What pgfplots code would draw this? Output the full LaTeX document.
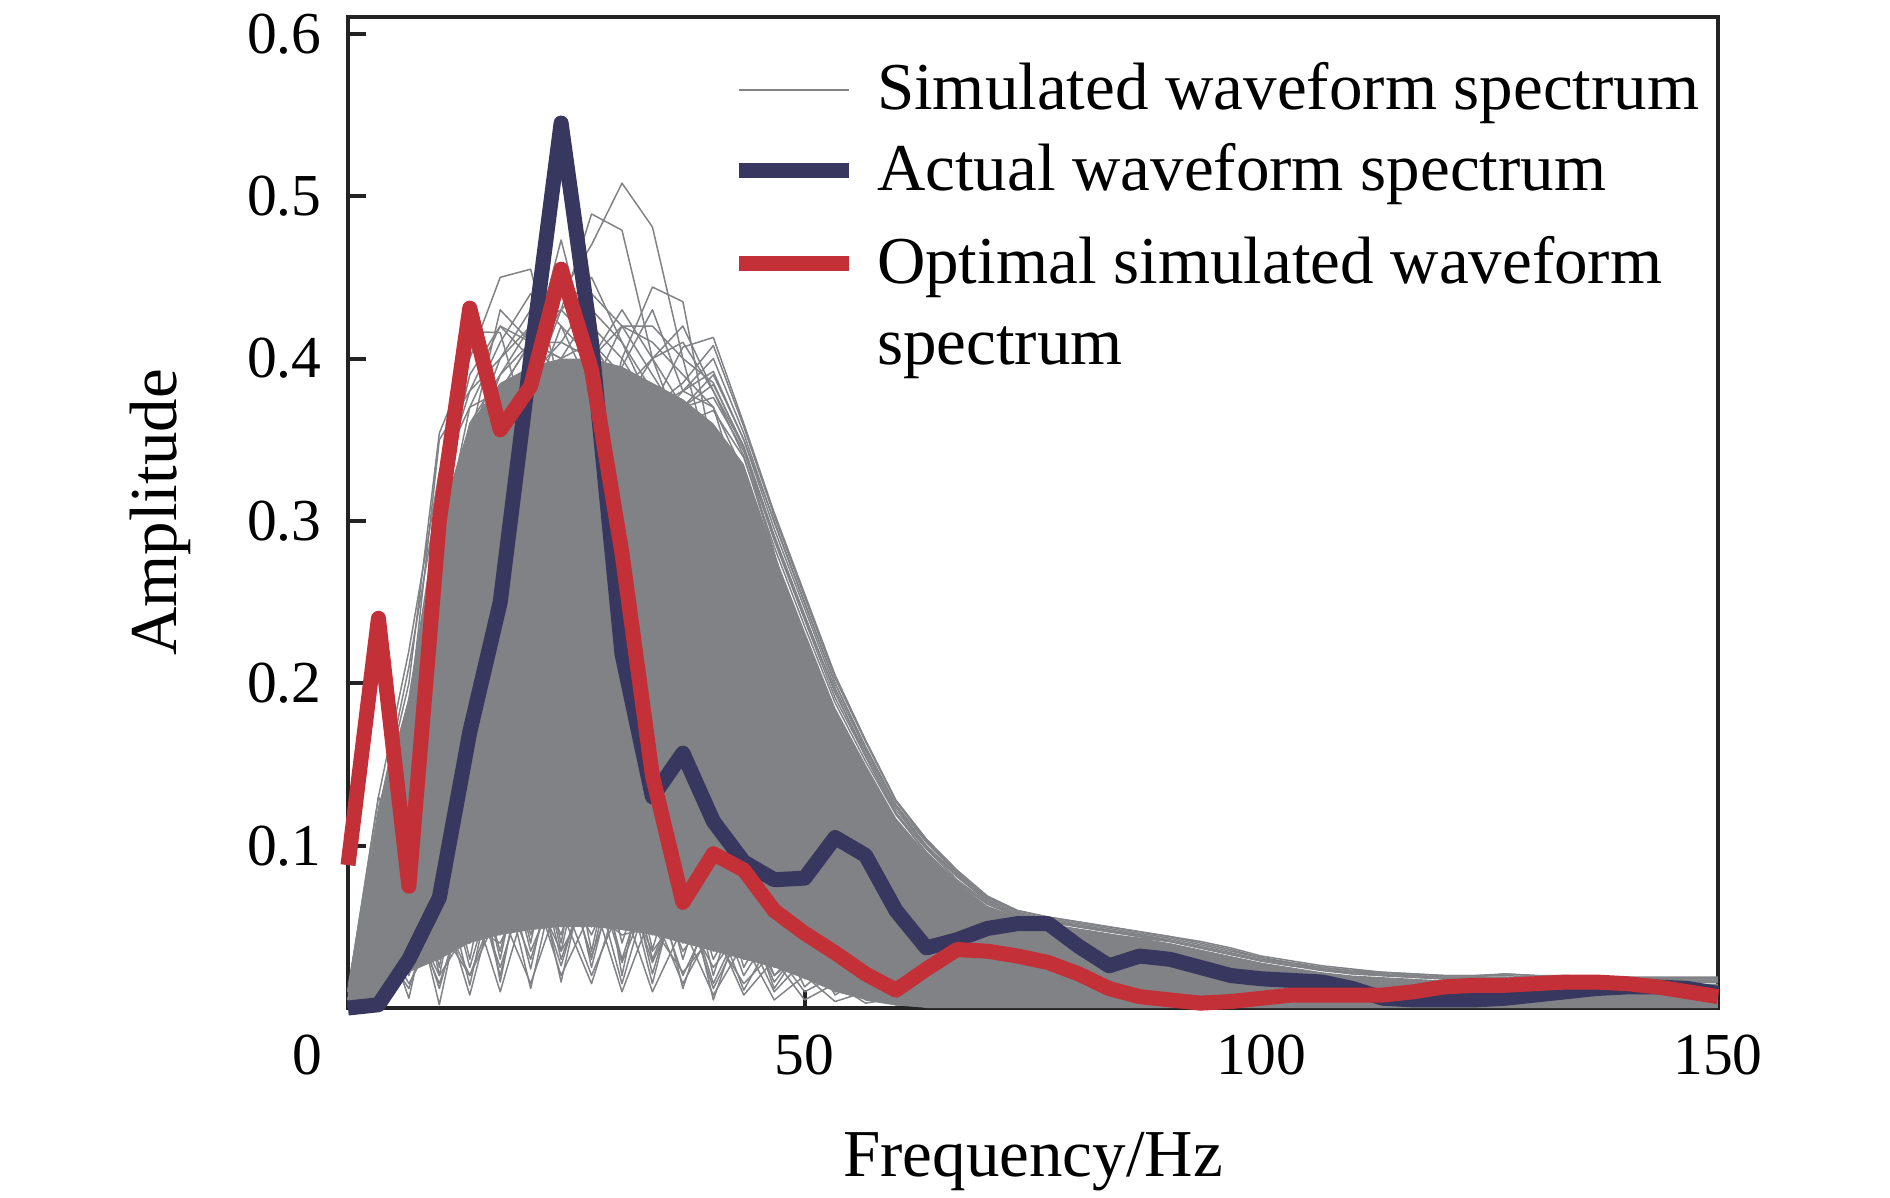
\documentclass[border=0pt]{standalone}
\usepackage{fontspec}
\setmainfont{Liberation Serif}
\usepackage{pgfplots}
\pgfplotsset{compat=1.18}
\definecolor{simgray}{RGB}{128,130,133}
\definecolor{actblue}{RGB}{55,55,95}
\definecolor{optred}{RGB}{196,48,56}
\definecolor{axcol}{RGB}{35,35,35}
\pgfplotsset{sim/.style={simgray, line width=0.3pt, line join=round, forget plot}}
\begin{document}
\begin{tikzpicture}
\begin{axis}[
  at={(0,0)}, anchor=south west,
  scale only axis, width=274pt, height=198.2pt,
  xmin=0, xmax=150, ymin=0, ymax=0.6103,
  clip=false,
  xtick={50,100,150},
  extra x ticks={0},
  extra x tick style={xticklabel style={xshift=-8.2pt}},
  ytick={0.1,0.2,0.3,0.4,0.5,0.6},
  /pgf/number format/assume math mode=true,
  tick label style={font=\fontsize{11.9}{14}\selectfont},
  yticklabel style={/pgf/number format/fixed, /pgf/number format/precision=1, inner sep=0pt, xshift=-5.1pt},
  xticklabel style={inner sep=0pt, yshift=-5.2pt},
  tick align=inside, tick pos=left,
  major tick length=3.7pt,
  major tick style={line width=0.8pt, axcol},
  axis line style={line width=0.8pt, axcol},
  label style={font=\fontsize{13.4}{16}\selectfont},
  xlabel={Frequency/Hz}, ylabel={Amplitude},
  x label style={at={(axis description cs:0.5,-0.1705)}, anchor=base},
  y label style={at={(axis description cs:-0.1252,0.5)}, anchor=base},
  legend cell align=left,
  legend style={draw=none, fill=none, inner sep=0pt, outer sep=0pt,
    at={(axis description cs:0.2796,0.954)}, anchor=north west,
    font=\fontsize{13.4}{16.3}\selectfont,
    cells={anchor=base west},
    nodes={inner sep=0pt, outer sep=0pt},
    /tikz/row sep=5.15pt, /tikz/column sep=4.2pt},
  legend image code/.code={\draw[#1] (0pt,4pt) -- (22pt,4pt);},
]
% dense region of the simulated spectra
\addplot[fill=simgray, draw=none, forget plot] coordinates {
(0,0.015) (3.333,0.125) (6.667,0.19) (10,0.30) (13.333,0.36) (16.667,0.385) (20,0.395) (23.333,0.40) (26.667,0.40) (30,0.395) (33.333,0.385) (36.667,0.375) (40,0.36) (43.333,0.335) (46.667,0.28) (50,0.232) (53.333,0.185) (56.667,0.15) (60,0.117) (63.333,0.095) (66.667,0.077) (70,0.063) (73.333,0.056) (76.667,0.052) (80,0.049) (83.333,0.046) (86.667,0.043) (90,0.040) (93.333,0.036) (96.667,0.032) (100,0.028) (103.333,0.025) (106.667,0.022) (110,0.020) (113.333,0.019) (116.667,0.018) (120,0.017) (123.333,0.016) (126.667,0.016) (130,0.016) (133.333,0.016) (136.667,0.016) (140,0.015) (143.333,0.015) (146.667,0.015) (150,0.015)
(150,0) (63.333,0) (60,0.002) (56.667,0.005) (53.333,0.010) (50,0.018) (46.667,0.025) (43.333,0.030) (40,0.035) (36.667,0.040) (33.333,0.045) (30,0.048) (26.667,0.050) (23.333,0.050) (20,0.048) (16.667,0.045) (13.333,0.040) (10,0.030) (6.667,0.022) (3.333,0) (0,0)
} -- cycle;
% upper simulated spectra
\addplot[simgray, line width=0.3pt, line join=round] coordinates {(0,0.005) (3.333,0.08) (6.667,0.14) (10,0.22) (13.333,0.30) (16.667,0.35) (20,0.40) (23.333,0.44) (26.667,0.47) (30,0.508) (33.333,0.481) (36.667,0.40) (40,0.33) (43.333,0.26) (46.667,0.20) (50,0.15) (53.333,0.12) (56.667,0.09) (60,0.07) (63.333,0.06) (66.667,0.05) (70,0.045) (73.333,0.04) (76.667,0.037) (80,0.035) (83.333,0.032) (86.667,0.03) (90,0.028)};
\addlegendentry{Simulated waveform spectrum}
\addplot[sim] coordinates {(0,0.005) (3.333,0.09) (6.667,0.15) (10,0.24) (13.333,0.31) (16.667,0.36) (20,0.38) (23.333,0.43) (26.667,0.489) (30,0.479) (33.333,0.40) (36.667,0.35) (40,0.31) (43.333,0.26) (46.667,0.21) (50,0.17) (53.333,0.13) (56.667,0.10) (60,0.08) (63.333,0.065) (66.667,0.055) (70,0.048) (73.333,0.043) (76.667,0.04) (80,0.037) (83.333,0.035) (86.667,0.032) (90,0.03)};
\addplot[sim] coordinates {(0,0.01) (3.333,0.10) (6.667,0.16) (10,0.26) (13.333,0.33) (16.667,0.37) (20,0.40) (23.333,0.473) (26.667,0.40) (30,0.37) (33.333,0.33) (36.667,0.30) (40,0.27) (43.333,0.23) (46.667,0.19) (50,0.15) (53.333,0.12) (56.667,0.095) (60,0.075) (63.333,0.062) (66.667,0.053) (70,0.047) (73.333,0.042) (76.667,0.04) (80,0.037) (83.333,0.035) (86.667,0.033) (90,0.031)};
\addplot[sim] coordinates {(0,0.005) (3.333,0.07) (6.667,0.12) (10,0.19) (13.333,0.25) (16.667,0.29) (20,0.31) (23.333,0.32) (26.667,0.33) (30,0.40) (33.333,0.444) (36.667,0.435) (40,0.34) (43.333,0.28) (46.667,0.23) (50,0.19) (53.333,0.155) (56.667,0.125) (60,0.10) (63.333,0.08) (66.667,0.066) (70,0.056) (73.333,0.05) (76.667,0.046) (80,0.043) (83.333,0.041) (86.667,0.039) (90,0.037)};
\addplot[sim] coordinates {(0,0.005) (3.333,0.06) (6.667,0.11) (10,0.17) (13.333,0.22) (16.667,0.26) (20,0.28) (23.333,0.30) (26.667,0.31) (30,0.33) (33.333,0.37) (36.667,0.407) (40,0.413) (43.333,0.36) (46.667,0.305) (50,0.255) (53.333,0.205) (56.667,0.165) (60,0.128) (63.333,0.104) (66.667,0.085) (70,0.069) (73.333,0.060) (76.667,0.056) (80,0.053) (83.333,0.050) (86.667,0.047) (90,0.044) (93.333,0.041) (96.667,0.037) (100,0.032) (103.333,0.029) (106.667,0.026) (110,0.024) (113.333,0.022) (116.667,0.021) (120,0.02) (123.333,0.02) (126.667,0.021) (130,0.02) (133.333,0.02) (136.667,0.019) (140,0.019) (143.333,0.019) (146.667,0.019) (150,0.019)};
\addplot[sim] coordinates {(0,0.01) (3.333,0.12) (6.667,0.20) (10,0.354) (13.333,0.40) (16.667,0.45) (20,0.455) (23.333,0.38) (26.667,0.35) (30,0.33) (33.333,0.30) (36.667,0.27) (40,0.24) (43.333,0.20) (46.667,0.16) (50,0.13) (53.333,0.10) (56.667,0.08) (60,0.065) (63.333,0.055) (66.667,0.048) (70,0.043) (73.333,0.04) (76.667,0.037) (80,0.035) (83.333,0.033) (86.667,0.031) (90,0.029)};
\addplot[sim] coordinates {(0,0.01) (3.333,0.12) (6.667,0.19) (10,0.30) (13.333,0.4165) (16.667,0.416) (20,0.35) (23.333,0.37) (26.667,0.34) (30,0.31) (33.333,0.28) (36.667,0.25) (40,0.22) (43.333,0.18) (46.667,0.15) (50,0.12) (53.333,0.095) (56.667,0.075) (60,0.062) (63.333,0.053) (66.667,0.047) (70,0.043) (73.333,0.04) (76.667,0.037) (80,0.035) (83.333,0.033) (86.667,0.031) (90,0.029)};
\addplot[sim] coordinates {(0,0.005) (3.333,0.08) (6.667,0.14) (10,0.22) (13.333,0.30) (16.667,0.34) (20,0.37) (23.333,0.42) (26.667,0.38) (30,0.42) (33.333,0.39) (36.667,0.36) (40,0.32) (43.333,0.27) (46.667,0.22) (50,0.18) (53.333,0.14) (56.667,0.11) (60,0.088) (63.333,0.072) (66.667,0.06) (70,0.052) (73.333,0.047) (76.667,0.043) (80,0.04) (83.333,0.038) (86.667,0.036) (90,0.034)};
\addplot[sim] coordinates {(0,0.005) (3.333,0.07) (6.667,0.13) (10,0.20) (13.333,0.27) (16.667,0.32) (20,0.35) (23.333,0.36) (26.667,0.37) (30,0.395) (33.333,0.43) (36.667,0.38) (40,0.37) (43.333,0.31) (46.667,0.26) (50,0.21) (53.333,0.17) (56.667,0.135) (60,0.105) (63.333,0.084) (66.667,0.069) (70,0.058) (73.333,0.051) (76.667,0.047) (80,0.044) (83.333,0.042) (86.667,0.04) (90,0.038)};
\addplot[sim] coordinates {(0,0.005) (3.333,0.07) (6.667,0.12) (10,0.19) (13.333,0.25) (16.667,0.30) (20,0.33) (23.333,0.35) (26.667,0.36) (30,0.37) (33.333,0.40) (36.667,0.42) (40,0.38) (43.333,0.345) (46.667,0.29) (50,0.24) (53.333,0.195) (56.667,0.155) (60,0.12) (63.333,0.095) (66.667,0.077) (70,0.064) (73.333,0.056) (76.667,0.051) (80,0.048) (83.333,0.045) (86.667,0.043) (90,0.041)};
\addplot[sim] coordinates {(0,0.005) (3.333,0.06) (6.667,0.11) (10,0.17) (13.333,0.23) (16.667,0.28) (20,0.31) (23.333,0.33) (26.667,0.35) (30,0.36) (33.333,0.35) (36.667,0.37) (40,0.39) (43.333,0.35) (46.667,0.30) (50,0.25) (53.333,0.20) (56.667,0.16) (60,0.124) (63.333,0.099) (66.667,0.081) (70,0.066) (73.333,0.058) (76.667,0.054) (80,0.05) (83.333,0.047) (86.667,0.045) (90,0.042)};
\addplot[sim] coordinates {(0,0.01) (3.333,0.11) (6.667,0.18) (10,0.28) (13.333,0.36) (16.667,0.39) (20,0.42) (23.333,0.44) (26.667,0.41) (30,0.39) (33.333,0.35) (36.667,0.31) (40,0.28) (43.333,0.24) (46.667,0.20) (50,0.16) (53.333,0.125) (56.667,0.098) (60,0.078) (63.333,0.064) (66.667,0.055) (70,0.048) (73.333,0.043) (76.667,0.04) (80,0.037) (83.333,0.035) (86.667,0.033) (90,0.031)};
\addplot[sim] coordinates {(0,0.005) (3.333,0.09) (6.667,0.15) (10,0.25) (13.333,0.34) (16.667,0.39) (20,0.41) (23.333,0.40) (26.667,0.43) (30,0.41) (33.333,0.37) (36.667,0.33) (40,0.29) (43.333,0.25) (46.667,0.21) (50,0.17) (53.333,0.135) (56.667,0.105) (60,0.083) (63.333,0.068) (66.667,0.058) (70,0.05) (73.333,0.045) (76.667,0.042) (80,0.039) (83.333,0.037) (86.667,0.035) (90,0.033)};
\addplot[sim] coordinates {(0,0.01) (3.333,0.13) (6.667,0.22) (10,0.33) (13.333,0.37) (16.667,0.38) (20,0.41) (23.333,0.39) (26.667,0.37) (30,0.35) (33.333,0.32) (36.667,0.28) (40,0.25) (43.333,0.21) (46.667,0.17) (50,0.14) (53.333,0.11) (56.667,0.088) (60,0.07) (63.333,0.058) (66.667,0.05) (70,0.045) (73.333,0.041) (76.667,0.038) (80,0.036) (83.333,0.034) (86.667,0.032) (90,0.03)};
\addplot[sim] coordinates {(0,0.01) (3.333,0.11) (6.667,0.19) (10,0.31) (13.333,0.39) (16.667,0.42) (20,0.40) (23.333,0.43) (26.667,0.41) (30,0.38) (33.333,0.36) (36.667,0.33) (40,0.30) (43.333,0.27) (46.667,0.24) (50,0.20)};
\addplot[sim] coordinates {(0,0.01) (3.333,0.10) (6.667,0.17) (10,0.28) (13.333,0.37) (16.667,0.41) (20,0.44) (23.333,0.42) (26.667,0.40) (30,0.43) (33.333,0.40) (36.667,0.37) (40,0.35) (43.333,0.31) (46.667,0.26) (50,0.21)};
\addplot[sim] coordinates {(0,0.01) (3.333,0.12) (6.667,0.21) (10,0.32) (13.333,0.38) (16.667,0.40) (20,0.43) (23.333,0.45) (26.667,0.42) (30,0.40) (33.333,0.37) (36.667,0.34) (40,0.31) (43.333,0.28) (46.667,0.24) (50,0.20)};
\addplot[sim] coordinates {(0,0.005) (3.333,0.09) (6.667,0.16) (10,0.26) (13.333,0.34) (16.667,0.38) (20,0.41) (23.333,0.41) (26.667,0.44) (30,0.42) (33.333,0.41) (36.667,0.39) (40,0.37) (43.333,0.33) (46.667,0.27) (50,0.22)};
\addplot[sim] coordinates {(0,0.005) (3.333,0.08) (6.667,0.15) (10,0.24) (13.333,0.31) (16.667,0.36) (20,0.39) (23.333,0.41) (26.667,0.40) (30,0.42) (33.333,0.42) (36.667,0.40) (40,0.385) (43.333,0.345) (46.667,0.28) (50,0.22)};
\addplot[sim] coordinates {(0,0.005) (3.333,0.08) (6.667,0.14) (10,0.23) (13.333,0.31) (16.667,0.35) (20,0.38) (23.333,0.40) (26.667,0.41) (30,0.38) (33.333,0.40) (36.667,0.41) (40,0.38) (43.333,0.34) (46.667,0.28) (50,0.22)};
\addplot[sim] coordinates {(0,0.01) (3.333,0.11) (6.667,0.18) (10,0.35) (13.333,0.38) (16.667,0.42) (20,0.41) (23.333,0.40) (26.667,0.37) (30,0.36) (33.333,0.34) (36.667,0.31) (40,0.28) (43.333,0.25) (46.667,0.22) (50,0.19)};
\addplot[sim] coordinates {(0,0.005) (3.333,0.09) (6.667,0.16) (10,0.27) (13.333,0.35) (16.667,0.40) (20,0.42) (23.333,0.43) (26.667,0.45) (30,0.41) (33.333,0.38) (36.667,0.35) (40,0.32) (43.333,0.28) (46.667,0.24) (50,0.20)};
\addplot[sim] coordinates {(0,0.01) (3.333,0.10) (6.667,0.17) (10,0.27) (13.333,0.35) (16.667,0.43) (20,0.41) (23.333,0.44) (26.667,0.39) (30,0.37) (33.333,0.35) (36.667,0.32) (40,0.29) (43.333,0.26) (46.667,0.22) (50,0.19)};
% bundle on the falling side and the tail
\addplot[sim] coordinates {(33.333,0.37) (36.667,0.385) (40,0.408) (43.333,0.358) (46.667,0.303) (50,0.253) (53.333,0.203) (56.667,0.164) (60,0.127) (63.333,0.103) (66.667,0.084) (70,0.068) (73.333,0.060) (76.667,0.056) (80,0.053) (83.333,0.050) (86.667,0.047) (90,0.044) (93.333,0.040) (96.667,0.036) (100,0.031) (103.333,0.028) (106.667,0.025) (110,0.023) (113.333,0.022) (116.667,0.021) (120,0.020) (123.333,0.020) (126.667,0.020) (130,0.019) (133.333,0.019) (136.667,0.019) (140,0.018) (143.333,0.018) (146.667,0.018) (150,0.018)};
\addplot[sim] coordinates {(33.333,0.37) (36.667,0.38) (40,0.400) (43.333,0.354) (46.667,0.299) (50,0.249) (53.333,0.200) (56.667,0.161) (60,0.125) (63.333,0.102) (66.667,0.083) (70,0.068) (73.333,0.059) (76.667,0.055) (80,0.052) (83.333,0.049) (86.667,0.046) (90,0.043) (93.333,0.039) (96.667,0.035) (100,0.031) (103.333,0.027) (106.667,0.025) (110,0.023) (113.333,0.021) (116.667,0.020) (120,0.019) (123.333,0.019) (126.667,0.021) (130,0.020) (133.333,0.019) (136.667,0.018) (140,0.017) (143.333,0.017) (146.667,0.018) (150,0.018)};
\addplot[sim] coordinates {(33.333,0.36) (36.667,0.38) (40,0.392) (43.333,0.350) (46.667,0.295) (50,0.246) (53.333,0.197) (56.667,0.159) (60,0.124) (63.333,0.100) (66.667,0.082) (70,0.067) (73.333,0.058) (76.667,0.054) (80,0.051) (83.333,0.048) (86.667,0.045) (90,0.041) (93.333,0.037) (96.667,0.033) (100,0.029) (103.333,0.026) (106.667,0.024) (110,0.022) (113.333,0.020) (116.667,0.019) (120,0.018) (123.333,0.018) (126.667,0.018) (130,0.017) (133.333,0.017) (136.667,0.017) (140,0.017) (143.333,0.016) (146.667,0.017) (150,0.017)};
\addplot[sim] coordinates {(33.333,0.36) (36.667,0.37) (40,0.384) (43.333,0.346) (46.667,0.291) (50,0.242) (53.333,0.194) (56.667,0.157) (60,0.122) (63.333,0.099) (66.667,0.081) (70,0.066) (73.333,0.058) (76.667,0.054) (80,0.051) (83.333,0.048) (86.667,0.045) (90,0.042) (93.333,0.038) (96.667,0.034) (100,0.030) (103.333,0.027) (106.667,0.024) (110,0.022) (113.333,0.021) (116.667,0.020) (120,0.019) (123.333,0.019) (126.667,0.019) (130,0.018) (133.333,0.018) (136.667,0.018) (140,0.017) (143.333,0.016) (146.667,0.016) (150,0.016)};
\addplot[sim] coordinates {(33.333,0.36) (36.667,0.37) (40,0.376) (43.333,0.343) (46.667,0.288) (50,0.239) (53.333,0.191) (56.667,0.155) (60,0.120) (63.333,0.098) (66.667,0.079) (70,0.065) (73.333,0.057) (76.667,0.053) (80,0.050) (83.333,0.047) (86.667,0.044) (90,0.041) (93.333,0.037) (96.667,0.033) (100,0.029) (103.333,0.026) (106.667,0.024) (110,0.021) (113.333,0.020) (116.667,0.019) (120,0.018) (123.333,0.018) (126.667,0.017) (130,0.017) (133.333,0.017) (136.667,0.017) (140,0.016) (143.333,0.016) (146.667,0.016) (150,0.016)};
\addplot[sim] coordinates {(33.333,0.35) (36.667,0.36) (40,0.368) (43.333,0.339) (46.667,0.284) (50,0.235) (53.333,0.188) (56.667,0.152) (60,0.119) (63.333,0.096) (66.667,0.078) (70,0.064) (73.333,0.057) (76.667,0.053) (80,0.050) (83.333,0.047) (86.667,0.044) (90,0.041) (93.333,0.037) (96.667,0.033) (100,0.029) (103.333,0.026) (106.667,0.023) (110,0.021) (113.333,0.020) (116.667,0.019) (120,0.018) (123.333,0.017) (126.667,0.017) (130,0.017) (133.333,0.016) (136.667,0.016) (140,0.016) (143.333,0.016) (146.667,0.016) (150,0.016)};
% lower simulated spectra
\addplot[sim] coordinates {(0,0.01) (3.333,0.09) (6.667,0.08) (10,0.002) (13.333,0.09) (16.667,0.02) (20,0.10) (23.333,0.016) (26.667,0.10) (30,0.03) (33.333,0.09) (36.667,0.012) (40,0.07) (43.333,0.02) (46.667,0.05) (50,0.013) (53.333,0.03) (56.667,0.006) (60,0.012) (63.333,0.003)};
\addplot[sim] coordinates {(0,0.01) (3.333,0.06) (6.667,0.006) (10,0.09) (13.333,0.014) (16.667,0.10) (20,0.024) (23.333,0.11) (26.667,0.025) (30,0.10) (33.333,0.021) (36.667,0.085) (40,0.005) (43.333,0.06) (46.667,0.016) (50,0.04) (53.333,0.008) (56.667,0.02) (60,0.004) (63.333,0.002)};
\addplot[sim] coordinates {(0,0.01) (3.333,0.10) (6.667,0.11) (10,0.02) (13.333,0.11) (16.667,0.03) (20,0.12) (23.333,0.035) (26.667,0.12) (30,0.04) (33.333,0.10) (36.667,0.03) (40,0.09) (43.333,0.025) (46.667,0.06) (50,0.02) (53.333,0.035) (56.667,0.01) (60,0.01) (63.333,0.003)};
\addplot[sim] coordinates {(0,0.01) (3.333,0.05) (6.667,0.025) (10,0.11) (13.333,0.03) (16.667,0.12) (20,0.04) (23.333,0.13) (26.667,0.035) (30,0.12) (33.333,0.036) (36.667,0.10) (40,0.02) (43.333,0.08) (46.667,0.025) (50,0.05) (53.333,0.015) (56.667,0.025) (60,0.006) (63.333,0.002)};
\addplot[sim] coordinates {(0,0.01) (3.333,0.07) (6.667,0.07) (10,0.012) (13.333,0.08) (16.667,0.025) (20,0.085) (23.333,0.026) (26.667,0.09) (30,0.028) (33.333,0.075) (36.667,0.02) (40,0.06) (43.333,0.011) (46.667,0.045) (50,0.022) (53.333,0.02) (56.667,0.012) (60,0.004) (63.333,0.002)};
\addplot[sim] coordinates {(0,0.01) (3.333,0.04) (6.667,0.012) (10,0.07) (13.333,0.008) (16.667,0.08) (20,0.03) (23.333,0.09) (26.667,0.032) (30,0.085) (33.333,0.028) (36.667,0.07) (40,0.012) (43.333,0.05) (46.667,0.01) (50,0.03) (53.333,0.012) (56.667,0.015) (60,0.003) (63.333,0.002)};
\addplot[sim] coordinates {(0,0.01) (3.333,0.12) (6.667,0.14) (10,0.05) (13.333,0.10) (16.667,0.05) (20,0.09) (23.333,0.045) (26.667,0.11) (30,0.05) (33.333,0.12) (36.667,0.05) (40,0.10) (43.333,0.04) (46.667,0.07) (50,0.03) (53.333,0.04) (56.667,0.015) (60,0.01) (63.333,0.003)};
\addplot[sim] coordinates {(0,0.01) (3.333,0.11) (6.667,0.05) (10,0.12) (13.333,0.04) (16.667,0.13) (20,0.06) (23.333,0.14) (26.667,0.07) (30,0.11) (33.333,0.06) (36.667,0.09) (40,0.035) (43.333,0.07) (46.667,0.02) (50,0.04) (53.333,0.01) (56.667,0.02) (60,0.005) (63.333,0.002)};
\addplot[sim] coordinates {(0,0.01) (3.333,0.08) (6.667,0.03) (10,0.06) (13.333,0.02) (16.667,0.07) (20,0.05) (23.333,0.06) (26.667,0.015) (30,0.075) (33.333,0.035) (36.667,0.06) (40,0.025) (43.333,0.05) (46.667,0.03) (50,0.025) (53.333,0.018) (56.667,0.01) (60,0.003) (63.333,0.002)};
\addplot[sim] coordinates {(0,0.01) (3.333,0.09) (6.667,0.10) (10,0.035) (13.333,0.12) (16.667,0.016) (20,0.11) (23.333,0.05) (26.667,0.13) (30,0.02) (33.333,0.11) (36.667,0.04) (40,0.08) (43.333,0.03) (46.667,0.055) (50,0.018) (53.333,0.03) (56.667,0.008) (60,0.006) (63.333,0.002)};
\addplot[sim] coordinates {(0,0.01) (3.333,0.05) (6.667,0.06) (10,0.02) (13.333,0.05) (16.667,0.04) (20,0.08) (23.333,0.02) (26.667,0.06) (30,0.045) (33.333,0.05) (36.667,0.022) (40,0.045) (43.333,0.015) (46.667,0.035) (50,0.01) (53.333,0.02) (56.667,0.005) (60,0.002) (63.333,0.001)};
\addplot[sim] coordinates {(0,0.01) (3.333,0.13) (6.667,0.09) (10,0.13) (13.333,0.06) (16.667,0.14) (20,0.065) (23.333,0.12) (26.667,0.05) (30,0.13) (33.333,0.05) (36.667,0.11) (40,0.045) (43.333,0.08) (46.667,0.03) (50,0.05) (53.333,0.02) (56.667,0.025) (60,0.01) (63.333,0.003)};
\addplot[sim] coordinates {(0,0.01) (3.333,0.1) (6.667,0.04) (10,0.1) (13.333,0.025) (16.667,0.09) (20,0.012) (23.333,0.095) (26.667,0.03) (30,0.11) (33.333,0.03) (36.667,0.075) (40,0.015) (43.333,0.055) (46.667,0.02) (50,0.035) (53.333,0.01) (56.667,0.015) (60,0.004) (63.333,0.002)};
\addplot[sim] coordinates {(0,0.01) (3.333,0.07) (6.667,0.09) (10,0.03) (13.333,0.10) (16.667,0.035) (20,0.11) (23.333,0.03) (26.667,0.085) (30,0.015) (33.333,0.08) (36.667,0.035) (40,0.06) (43.333,0.03) (46.667,0.04) (50,0.02) (53.333,0.025) (56.667,0.008) (60,0.005) (63.333,0.002)};
\addplot[sim] coordinates {(0,0.01) (3.333,0.09) (6.667,0.02) (10,0.08) (13.333,0.04) (16.667,0.11) (20,0.035) (23.333,0.08) (26.667,0.045) (30,0.09) (33.333,0.015) (36.667,0.09) (40,0.03) (43.333,0.065) (46.667,0.012) (50,0.04) (53.333,0.015) (56.667,0.02) (60,0.003) (63.333,0.002)};
\addplot[sim] coordinates {(0,0.01) (3.333,0.12) (6.667,0.11) (10,0.025) (13.333,0.13) (16.667,0.045) (20,0.12) (23.333,0.04) (26.667,0.14) (30,0.055) (33.333,0.13) (36.667,0.045) (40,0.11) (43.333,0.035) (46.667,0.075) (50,0.025) (53.333,0.045) (56.667,0.01) (60,0.015) (63.333,0.003)};
\addplot[sim] coordinates {(0,0.01) (3.333,0.06) (6.667,0.045) (10,0.10) (13.333,0.05) (16.667,0.12) (20,0.045) (23.333,0.10) (26.667,0.05) (30,0.12) (33.333,0.045) (36.667,0.11) (40,0.04) (43.333,0.085) (46.667,0.03) (50,0.06) (53.333,0.02) (56.667,0.03) (60,0.008) (63.333,0.002)};
\addplot[sim] coordinates {(0,0.01) (3.333,0.08) (6.667,0.06) (10,0.015) (13.333,0.07) (16.667,0.01) (20,0.075) (23.333,0.035) (26.667,0.07) (30,0.01) (33.333,0.06) (36.667,0.015) (40,0.05) (43.333,0.008) (46.667,0.03) (50,0.005) (53.333,0.015) (56.667,0.003) (60,0.006) (63.333,0.001)};
\addplot[sim] coordinates {(0,0.01) (3.333,0.11) (6.667,0.12) (10,0.06) (13.333,0.14) (16.667,0.07) (20,0.13) (23.333,0.06) (26.667,0.15) (30,0.07) (33.333,0.14) (36.667,0.06) (40,0.12) (43.333,0.05) (46.667,0.09) (50,0.035) (53.333,0.05) (56.667,0.02) (60,0.02) (63.333,0.005)};
\addplot[sim] coordinates {(0,0.01) (3.333,0.05) (6.667,0.015) (10,0.05) (13.333,0.02) (16.667,0.06) (20,0.015) (23.333,0.07) (26.667,0.02) (30,0.065) (33.333,0.01) (36.667,0.05) (40,0.008) (43.333,0.04) (46.667,0.005) (50,0.02) (53.333,0.004) (56.667,0.01) (60,0.002) (63.333,0.001)};
% actual waveform spectrum
\addplot[actblue, line width=3pt, line join=round] coordinates {(0,0) (3.333,0.002) (6.667,0.030) (10,0.068) (13.333,0.170) (16.667,0.250) (20,0.400) (23.333,0.545) (26.667,0.410) (30,0.218) (33.333,0.130) (36.667,0.157) (40,0.115) (43.333,0.090) (46.667,0.079) (50,0.080) (53.333,0.105) (56.667,0.094) (60,0.060) (63.333,0.037) (66.667,0.042) (70,0.049) (73.333,0.052) (76.667,0.052) (80,0.038) (83.333,0.026) (86.667,0.032) (90,0.030) (93.333,0.025) (96.667,0.020) (100,0.018) (103.333,0.017) (106.667,0.016) (110,0.012) (113.333,0.006) (116.667,0.005) (120,0.005) (123.333,0.005) (126.667,0.006) (130,0.008) (133.333,0.010) (136.667,0.012) (140,0.013) (143.333,0.013) (146.667,0.012) (150,0.009)};
\addlegendentry{Actual waveform spectrum}
% optimal simulated waveform spectrum
\addplot[optred, line width=3pt, line join=round] coordinates {(0,0.088) (3.333,0.240) (6.667,0.075) (10,0.300) (13.333,0.431) (16.667,0.356) (20,0.383) (23.333,0.455) (26.667,0.393) (30,0.280) (33.333,0.143) (36.667,0.065) (40,0.095) (43.333,0.085) (46.667,0.060) (50,0.046) (53.333,0.034) (56.667,0.021) (60,0.011) (63.333,0.024) (66.667,0.036) (70,0.035) (73.333,0.032) (76.667,0.028) (80,0.021) (83.333,0.012) (86.667,0.007) (90,0.005) (93.333,0.003) (96.667,0.004) (100,0.006) (103.333,0.008) (106.667,0.008) (110,0.008) (113.333,0.008) (116.667,0.010) (120,0.013) (123.333,0.014) (126.667,0.014) (130,0.015) (133.333,0.016) (136.667,0.016) (140,0.015) (143.333,0.013) (146.667,0.010) (150,0.007)};
\addlegendentry{\begin{tabular}[t]{@{}l@{}}\rule{0pt}{12pt}Optimal simulated waveform\\spectrum\end{tabular}}
\end{axis}
\pgfresetboundingbox
\path (-69.6pt,-37.8pt) rectangle (308.4pt,201.6pt);
\end{tikzpicture}
\end{document}
